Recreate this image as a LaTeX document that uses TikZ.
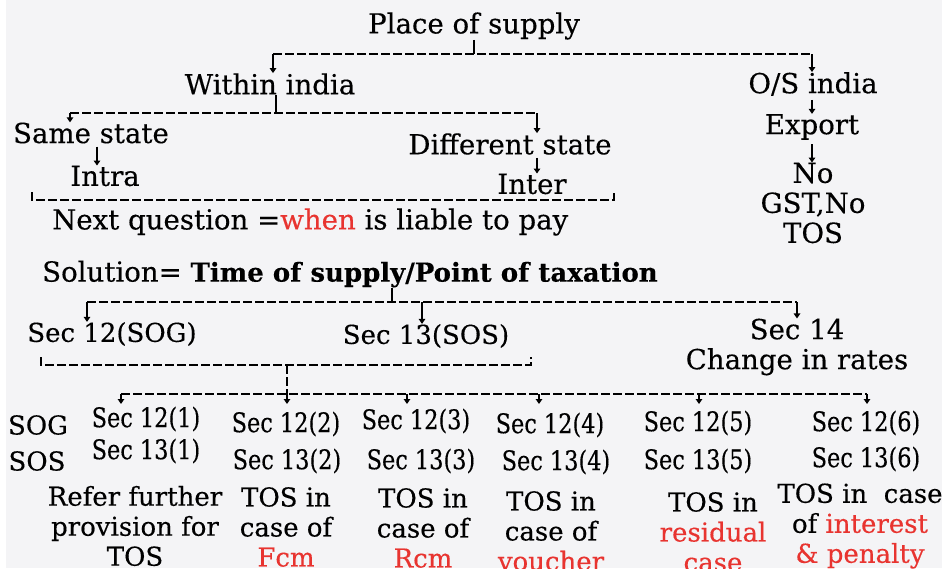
\documentclass[tikz,border=0pt]{standalone}
\usepackage{fontspec}
\setmainfont{DejaVu Serif}[FakeBold=0.3]
\newfontfamily\narrowfont{DejaVu Serif}[FakeStretch=0.83,FakeBold=0.3]
\usepackage{xcolor}
\usetikzlibrary{arrows.meta,positioning,calc}

\definecolor{pagebg}{RGB}{244,244,246}
\definecolor{hired}{RGB}{232,52,48}

\tikzset{
  txt/.style={inner sep=0pt,align=center,font=\fontsize{26}{30}\selectfont},
  big/.style={txt,font=\fontsize{27.6}{30}\selectfont},
  sec/.style={txt,font=\narrowfont\fontsize{27}{30}\selectfont},
  bus/.style={line width=1.8pt,dash pattern=on 9pt off 3pt},
  tick/.style={line width=1.8pt},
  drop/.style={line width=1.4pt,-{Triangle[length=5pt,width=6.5pt]}},
}

\begin{document}
\begin{tikzpicture}[x=1pt,y=-1pt]
  \useasboundingbox (0,0) rectangle (942,568);
  \fill[white] (0,0) rectangle (6,568);
  \fill[pagebg] (6,0) rectangle (942,568);

  % place of supply
  \node[big] (pos) at (474,26) {Place of supply};
  \node[big] (win) at (270,84) {Within india};
  \node[big] (osi) at (813,84) {O/S india};
  \node[big] (exp) at (812,127) {Export};
  \node[big] (nogst) at (813,203) {No\\GST,No\\TOS};
  \node[big] (same) at (91,133) {Same state};
  \node[big] (intra) at (105,176) {Intra};
  \node[big] (diff) at (510,144) {Different state};
  \node[big] (inter) at (532,184) {Inter};
  \node[big,anchor=west] (next) at (52,222) {Next question =\textcolor{hired}{when} is liable to pay};

  \coordinate (b1) at (474,54);
  \coordinate (b1l) at (273,54);
  \coordinate (b1r) at (812,54);
  \draw[tick] (pos.south -| b1) -- (b1);
  \draw[bus] (b1l) -- (b1r);
  \draw[drop] (b1l) -- (b1l |- win.north);
  \draw[drop] (b1r) -- (b1r |- osi.north);
  \draw[drop,shorten <=4pt] (osi.south -| b1r) -- (b1r |- exp.north);
  \draw[drop,shorten <=4pt] (exp.south -| b1r) -- (b1r |- nogst.north);

  \coordinate (b2) at (276,113);
  \coordinate (b2l) at (70,113);
  \coordinate (b2r) at (537,113);
  \draw[tick] (win.south -| b2) -- (b2);
  \draw[bus] (b2l) -- (b2r);
  \draw[drop] (b2l) -- (b2l |- same.north);
  \draw[drop] (b2r) -- (b2r |- diff.north);
  \draw[drop,shorten <=3pt] (same.south -| 97,0) -- (intra.north -| 97,0);
  \draw[drop,shorten <=3pt] (diff.south -| b2r) -- (b2r |- inter.north);

  \coordinate (k1l) at (32,192);
  \coordinate (k1r) at (614,192);
  \draw[bus] (k1l) -- ++(0,8) -| (k1r);

  % time of supply
  \node[txt,anchor=west] (sol) at (42,274) {\fontsize{27.6}{30}\selectfont Solution= \fontsize{26}{30}\selectfont\textbf{Time of supply/Point of taxation}};
  \node[txt] (s12) at (112,334) {Sec 12(SOG)};
  \node[txt] (s13) at (426,336) {Sec 13(SOS)};
  \node[big] (s14) at (797,347) {Sec 14\\Change in rates};

  \coordinate (b3) at (392,302);
  \coordinate (b3l) at (87,302);
  \coordinate (b3m) at (422,302);
  \coordinate (b3r) at (797,302);
  \draw[tick] (sol.south -| b3) -- (b3);
  \draw[bus] (b3l) -- (b3r);
  \draw[drop] (b3l) -- (b3l |- s12.north);
  \draw[drop] (b3m) -- (b3m |- s13.north);
  \draw[drop] (b3r) -- (b3r |- s14.north);

  \coordinate (k2l) at (41,357);
  \coordinate (k2r) at (531,357);
  \coordinate (k2) at (287,365);
  \draw[bus] (k2l) -- ++(0,8) -| (k2r);

  % sub sections
  \node[txt] (sog) at (38,425) {SOG};
  \node[txt] (sos) at (37,461) {SOS};
  \node[sec] (r1a) at (146,419) {Sec 12(1)};
  \node[sec] (r1b) at (146,451) {Sec 13(1)};
  \node[sec] (r2a) at (286,424) {Sec 12(2)};
  \node[sec] (r2b) at (287,461) {Sec 13(2)};
  \node[sec] (r3a) at (416,421) {Sec 12(3)};
  \node[sec] (r3b) at (421,461) {Sec 13(3)};
  \node[sec] (r4a) at (550,425) {Sec 12(4)};
  \node[sec] (r4b) at (556,462) {Sec 13(4)};
  \node[sec] (r5a) at (698,423) {Sec 12(5)};
  \node[sec] (r5b) at (698,461) {Sec 13(5)};
  \node[sec] (r6a) at (866,423) {Sec 12(6)};
  \node[sec] (r6b) at (866,459) {Sec 13(6)};

  \node[txt] (d1) at (135,526) {Refer further\\provision for\\TOS};
  \node[txt] (d2) at (286,527) {TOS in\\case of\\\textcolor{hired}{Fcm}};
  \node[txt] (d3) at (423,528) {TOS in\\case of\\\textcolor{hired}{Rcm}};
  \node[txt] (d4) at (551,531) {TOS in\\case of\\\textcolor{hired}{voucher}};
  \node[txt] (d5) at (713,532) {TOS in\\\textcolor{hired}{residual}\\\textcolor{hired}{case}};
  \node[txt] (d6) at (860,526) {TOS in\ \ case\\of \textcolor{hired}{interest}\\\textcolor{hired}{\& penalty}};

  \coordinate (b4) at (287,394);
  \coordinate (b4l) at (121,394);
  \coordinate (b4r) at (867,394);
  \draw[bus] (k2) -- (b4);
  \draw[bus] (b4l) -- (b4r);
  \foreach \x in {121,287,407,539,699,867}
    \draw[drop] (\x,394) -- (\x,404);
\end{tikzpicture}
\end{document}
